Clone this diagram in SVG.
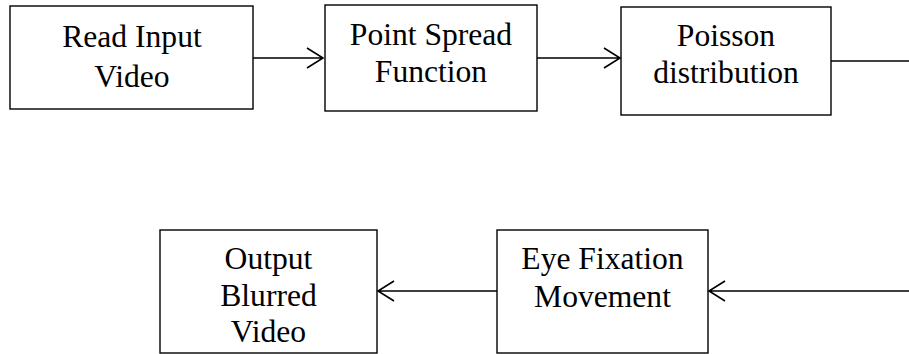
<svg xmlns="http://www.w3.org/2000/svg" width="909" height="354" viewBox="0 0 909 354">
<style>
rect.box{fill:#fff;stroke:#000;stroke-width:1.4}
text{font-family:"Liberation Serif","Times New Roman",serif;font-size:31.6px;fill:#000;text-anchor:middle}
.c{fill:none;stroke:#000;stroke-width:1.6}
</style>
<rect width="909" height="354" fill="#fff"/>
<g id="n1"><rect class="box" x="10" y="6" width="243" height="103"/><text x="132" y="46.5">Read Input</text><text x="132" y="86.5">Video</text></g>
<g id="n2"><rect class="box" x="325" y="5" width="212" height="106"/><text x="431" y="45">Point Spread</text><text x="431" y="82">Function</text></g>
<g id="n3"><rect class="box" x="621" y="7" width="210" height="108"/><text x="726" y="46">Poisson</text><text x="726" y="83">distribution</text></g>
<g id="n4"><rect class="box" x="160" y="230" width="217" height="123"/><text x="268.5" y="268.5">Output</text><text x="268.5" y="305.5">Blurred</text><text x="268.5" y="342">Video</text></g>
<g id="n5"><rect class="box" x="497" y="230" width="211" height="123"/><text x="602.5" y="269">Eye Fixation</text><text x="602.5" y="307">Movement</text></g>
<g id="connectors">
<path class="c" d="M253 58H323M307 48L323 58L307 68"/>
<path class="c" d="M537 58H620M604 48L620 58L604 68"/>
<path class="c" d="M831 61H909"/>
<path class="c" d="M909 291H709M725 281L709 291L725 301"/>
<path class="c" d="M497 291H378M394 281L378 291L394 301"/>
</g>
</svg>
